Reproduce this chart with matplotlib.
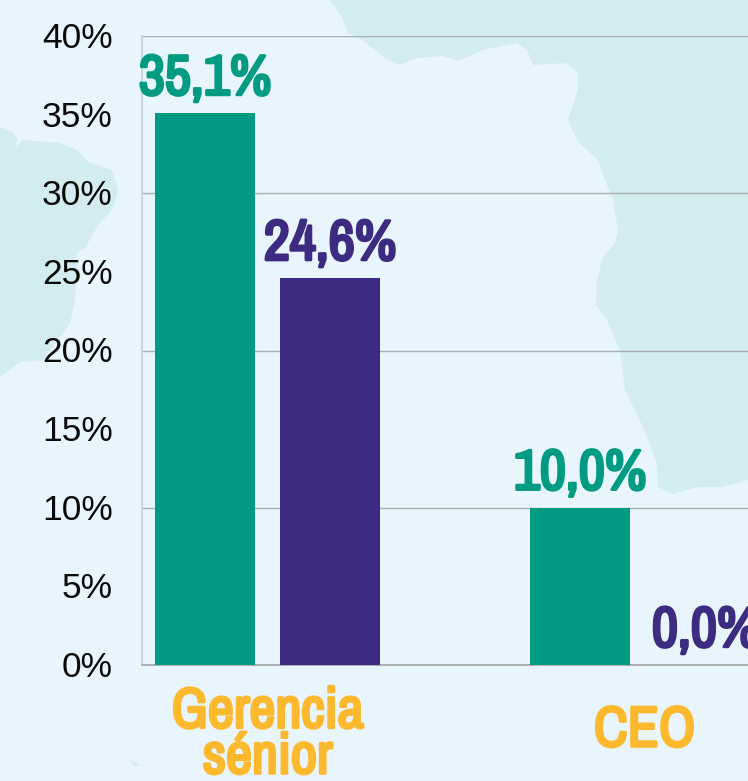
import numpy as np
import matplotlib
matplotlib.use("Agg")
import matplotlib.pyplot as plt
import matplotlib.patheffects as pe
from matplotlib.patches import Polygon
from matplotlib.transforms import ScaledTranslation

categories = ["Gerencia\nsénior", "CEO"]
serie_verde = [35.1, 10.0]
serie_morada = [24.6, 0.0]
yticks = [0, 5, 10, 15, 20, 25, 30, 35, 40]

# mapa de fondo, en pixeles de la imagen (solo decorativo)
africa = [(330, 0), (342, 17), (348, 33), (363, 40), (385, 58), (400, 65), (417, 58), (443, 56), (458, 61),
          (483, 50), (517, 43), (527, 50), (533, 65), (565, 63), (578, 72), (578, 90), (572, 107), (568, 120),
          (578, 142), (598, 160), (605, 180), (613, 200), (618, 230), (615, 243), (603, 257), (597, 280),
          (596, 305), (607, 320), (620, 350), (625, 390), (643, 427), (657, 463), (658, 487), (673, 494),
          (697, 487), (723, 487), (748, 480), (748, 0)]
brasil = [(0, 127), (13, 132), (17, 138), (16, 148), (23, 140), (60, 143), (77, 150), (88, 162), (112, 170),
          (118, 190), (113, 208), (97, 227), (85, 248), (77, 252), (75, 300), (70, 323), (43, 360), (20, 362),
          (0, 377)]
isla = [(128, 759), (134, 761), (140, 765), (135, 767)]

W, H = 748, 781
verde = "#009b82"
morada = "#3d2b82"
amarillo = "#fdb92e"
fondo = "#e9f5fc"
tierra = "#d3ecef"
cond = "Archivo Narrow"

fig = plt.figure(figsize=(W / 100, H / 100), dpi=100, facecolor=fondo)

bg = fig.add_axes([0, 0, 1, 1], zorder=0)
bg.set_xlim(0, W)
bg.set_ylim(H, 0)
bg.axis("off")
for forma in (africa, brasil, isla):
    bg.add_patch(Polygon(forma, closed=True, facecolor=tierra, edgecolor="none"))

# ejes: x=142 hasta el borde derecho, 40% en y=36 y 0% en y=665
ax = fig.add_axes([142 / W, 1 - 665 / H, (W - 142) / W, (665 - 36) / H], zorder=1)
ax.patch.set_alpha(0)
x = np.arange(len(categories))
ancho = 100 / 375
sep = 125 / 375
ax.bar(x - sep / 2, serie_verde, ancho, color=verde, zorder=3)
ax.bar(x + sep / 2, serie_morada, ancho, color=morada, zorder=3)
ax.set_xlim(-125.5 / 375, 480.5 / 375)
ax.set_ylim(0, 40)

ax.set_yticks(yticks)
ax.set_yticklabels([f"{v}%" for v in yticks], fontsize=25.5, family="Liberation Sans", color="#0a0a0a")
ax.tick_params(axis="y", length=0, pad=21)
subir = ScaledTranslation(0, 0.8 / 72, fig.dpi_scale_trans)
for lab in ax.get_yticklabels():
    lab.set_transform(lab.get_transform() + subir)
ax.set_xticks([])
ax.yaxis.grid(True, color="#a9adb0", linewidth=1)
# solo hay linea de rejilla cada 10%
for v, linea in zip(yticks, ax.get_ygridlines()):
    linea.set_visible(v % 10 == 0)
ax.set_axisbelow(True)
for s in ("top", "right"):
    ax.spines[s].set_visible(False)
ax.spines["left"].set_color("#c8ced3")
ax.spines["left"].set_linewidth(1.2)
ax.spines["bottom"].set_color("#a0a3a6")
ax.spines["bottom"].set_linewidth(1.2)


def etiqueta(xp, v, color):
    t = ax.annotate(f"{v:.1f}%".replace(".", ","), (xp, v), xytext=(0, 6), textcoords="offset points",
                    ha="center", va="bottom", fontsize=41, family=cond, color=color, zorder=4)
    t.set_path_effects([pe.withStroke(linewidth=2.2, foreground=color)])


for i in x:
    etiqueta(i - sep / 2, serie_verde[i], verde)
    etiqueta(i + sep / 2, serie_morada[i], morada)

for i, cat in enumerate(categories):
    baja = -50 if "\n" in cat else -47
    t = ax.annotate(cat, (i, 0), xytext=(i * 1.5, baja), textcoords="offset points", ha="center", va="center",
                    fontsize=41, family=cond, color=amarillo, linespacing=0.85, annotation_clip=False)
    t.set_path_effects([pe.withStroke(linewidth=2.2, foreground=amarillo)])

fig.savefig("out.png", dpi=100, facecolor=fondo)
